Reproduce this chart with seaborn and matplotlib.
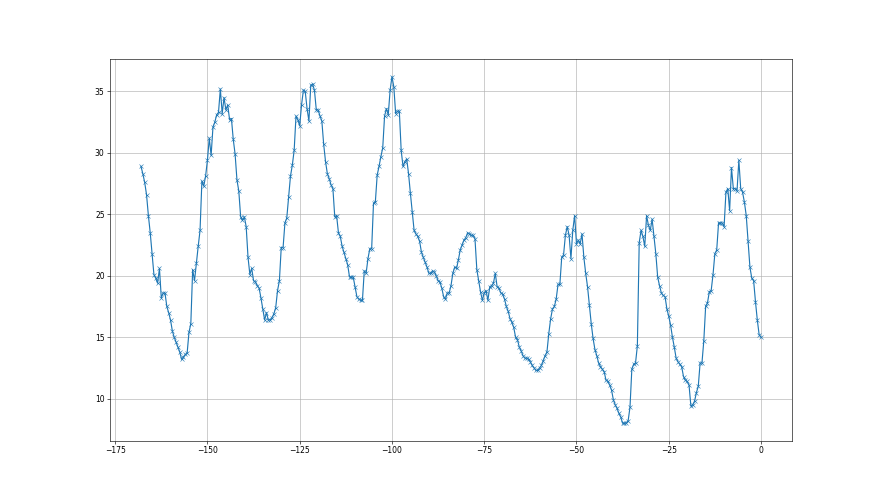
import numpy as np
import pandas as pd
import matplotlib
matplotlib.use("Agg")
import matplotlib.pyplot as plt
import seaborn as sns

# half-hourly readings over the last week (hours relative to now)
hours = np.arange(-168, 0.5, 0.5)

# values, in chunks of roughly 30 hours
vals_a = [28.9, 28.3, 27.6, 26.6, 24.9, 23.5, 21.8, 20.1, 19.8, 19.4,
          20.6, 18.2, 18.6, 18.6, 17.5, 17.0, 16.4, 15.5, 15.0, 14.6,
          14.2, 13.8, 13.2, 13.4, 13.6, 13.7, 15.4, 16.1, 20.5, 19.6,
          21.0, 22.4, 23.7, 27.7, 27.3, 28.1, 29.4, 31.2, 29.8, 32.1,
          32.5, 33.1, 33.3, 35.2, 33.2, 34.5, 33.5, 33.9, 32.7, 32.8,
          31.1, 29.9, 27.8, 26.9, 24.8, 24.5, 24.8, 24.0, 21.5, 20.1]
vals_b = [20.6, 19.6, 19.5, 19.2, 19.0, 18.2, 17.3, 16.4, 17.0, 16.4,
          16.4, 16.6, 16.9, 17.4, 18.8, 19.6, 22.3, 22.3, 24.3, 24.7,
          26.4, 28.1, 29.0, 30.2, 33.0, 32.7, 32.2, 33.9, 35.1, 35.0,
          33.6, 32.6, 35.5, 35.6, 35.1, 33.5, 33.5, 33.0, 32.6, 30.7,
          29.3, 28.3, 27.9, 27.4, 27.1, 24.8, 24.9, 23.5, 23.2, 22.4,
          21.9, 21.4, 20.9, 19.9, 19.9, 19.9, 19.1, 18.3, 18.1]
vals_c = [18.0, 18.0, 20.4, 20.2, 21.4, 22.2, 22.2, 25.9, 26.0, 28.2,
          28.9, 29.7, 30.4, 33.0, 33.6, 33.1, 35.1, 36.2, 35.4, 33.2,
          33.4, 33.4, 30.2, 28.9, 29.3, 29.5, 28.3, 26.7, 25.2, 23.7,
          23.4, 23.2, 22.8, 21.9, 21.5, 21.1, 20.7, 20.2, 20.2, 20.4,
          20.3, 20.0, 19.6, 19.5, 19.0, 18.3, 18.1, 18.6, 18.6, 19.2,
          20.2, 20.7, 20.6, 21.3, 22.1, 22.5, 22.9, 23.1, 23.5, 23.4]
vals_d = [23.3, 23.3, 23.0, 20.5, 19.6, 18.7, 18.0, 18.6, 18.8, 18.0,
          19.1, 19.2, 19.4, 20.2, 19.1, 19.0, 18.6, 18.5, 18.1, 17.5,
          17.1, 16.5, 16.2, 15.8, 15.0, 14.8, 14.2, 13.9, 13.5, 13.3,
          13.3, 13.2, 13.0, 12.7, 12.5, 12.3, 12.3, 12.5, 12.7, 13.1,
          13.5, 13.8, 15.3, 16.5, 17.3, 17.5, 18.1, 19.3, 19.3, 21.5,
          21.7, 23.3, 24.0, 23.3, 21.4, 23.7, 24.9, 22.6]
vals_e = [22.9, 22.6, 23.4, 21.5, 20.2, 19.1, 17.6, 16.1, 14.9, 14.0,
          13.5, 12.9, 12.6, 12.4, 12.2, 11.5, 11.4, 11.1, 10.7, 9.9,
          9.5, 9.2, 8.8, 8.5, 8.0, 8.0, 8.0, 8.2, 9.3, 12.4,
          12.8, 12.9, 14.3, 22.7, 23.7, 23.2, 22.4, 24.9, 24.1, 23.7,
          24.6, 23.2, 21.8, 19.9, 19.2, 18.6, 18.4, 18.3, 17.3, 16.7,
          16.0, 15.0, 14.2, 13.3, 13.0, 12.8, 12.6, 11.8, 11.5, 11.4,
          11.1]
vals_f = [9.4, 9.5, 9.8, 10.5, 11.0, 12.9, 12.9, 14.7, 17.5, 17.8,
          18.7, 18.8, 20.1, 21.8, 22.1, 24.3, 24.3, 24.3, 24.0, 26.8,
          27.1, 25.3, 28.8, 27.1, 27.1, 26.9, 29.4, 27.1, 26.8, 26.0,
          24.9, 22.8, 20.7, 19.8, 19.6, 17.9, 16.4, 15.2, 15.0]

values = vals_a + vals_b + vals_c + vals_d + vals_e + vals_f
df = pd.DataFrame({'hours': hours, 'value': values})

fig = plt.figure(figsize=(16, 9), dpi=55)
ax = sns.lineplot(x='hours', y='value', data=df, marker='x', color='#1f77b4',
                  markeredgecolor='#1f77b4')
ax.grid(True, color='#b0b0b0', linewidth=0.8)
ax.set_xlabel('')
ax.set_ylabel('')
ax.set_xticks([-175, -150, -125, -100, -75, -50, -25, 0])
ax.set_yticks([10, 15, 20, 25, 30, 35])
plt.savefig('out.png', dpi=55)
